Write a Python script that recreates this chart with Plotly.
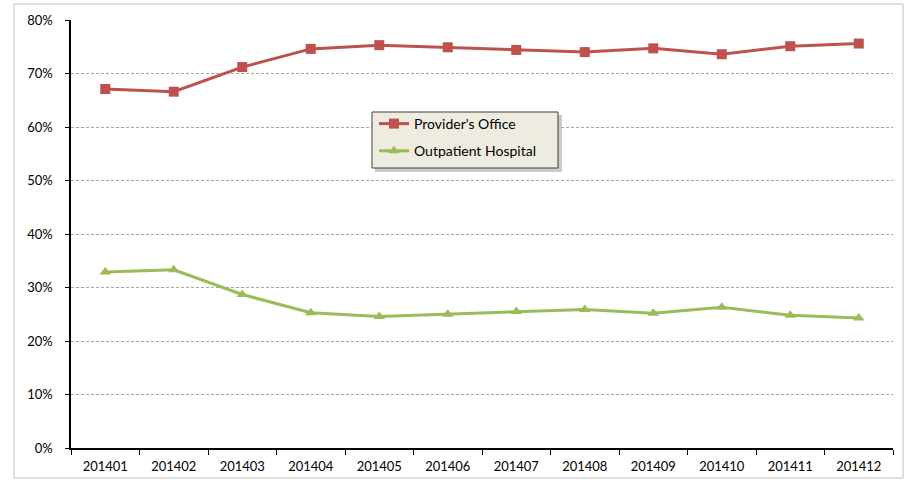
import plotly.graph_objects as go

months = ["201401", "201402", "201403", "201404", "201405", "201406",
          "201407", "201408", "201409", "201410", "201411", "201412"]
provider_office = [0.671, 0.666, 0.712, 0.746, 0.753, 0.749, 0.744, 0.740, 0.747, 0.736, 0.751, 0.756]
outpatient_hospital = [0.329, 0.333, 0.287, 0.253, 0.246, 0.250, 0.255, 0.259, 0.252, 0.263, 0.248, 0.243]

FONT = "Lato, 'Open Sans', sans-serif"

fig = go.Figure()
fig.add_trace(go.Scatter(
    x=months, y=provider_office, name="Provider's Office", mode="lines+markers",
    legendgroup="a",
    line=dict(color="#C0504D", width=3),
    marker=dict(symbol="square", size=10, color="#C0504D"),
))
fig.add_trace(go.Scatter(
    x=months, y=outpatient_hospital, name="Outpatient Hospital", mode="lines+markers",
    legendgroup="b",
    line=dict(color="#9BBB59", width=3),
    marker=dict(symbol="triangle-up", size=10, color="#9BBB59"),
))

L, R, T, B = 71, 13, 20, 36
W, H = 906, 484
pw, ph = W - L - R, H - T - B

def px(x):
    return (x - L) / pw

def py(y):
    return (H - B - y) / ph

shapes = [
    # outer chart border
    dict(type="rect", xref="paper", yref="paper",
         x0=px(14), x1=px(903), y0=py(478), y1=py(4),
         line=dict(color="#BFBFBF", width=1), layer="below"),
    # legend shadow
    dict(type="rect", xref="paper", yref="paper",
         x0=px(375), x1=px(562), y0=py(172), y1=py(115),
         fillcolor="rgba(150,150,150,0.5)", line=dict(width=0), layer="above"),
    # legend box
    dict(type="rect", xref="paper", yref="paper",
         x0=px(372), x1=px(558), y0=py(168), y1=py(112),
         fillcolor="#EEECE1", line=dict(color="#404040", width=1), layer="above"),
]

fig.update_layout(
    width=W, height=H,
    margin=dict(l=L, r=R, t=T, b=B),
    paper_bgcolor="white", plot_bgcolor="white",
    font=dict(family=FONT, size=13, color="#000000"),
    showlegend=True,
    legend=dict(
        x=px(374), y=py(108), xanchor="left", yanchor="top",
        bgcolor="rgba(0,0,0,0)", borderwidth=0,
        font=dict(family=FONT, size=14, color="#000000"),
        tracegroupgap=6, itemwidth=30, traceorder="grouped",
    ),
    xaxis=dict(
        type="category", range=[-0.5, 11.5], tickson="boundaries", automargin=False,
        ticks="outside", ticklen=5, ticklabelstandoff=6,
        tickcolor="#000000", showline=True, linecolor="#000000", linewidth=1.5,
        showgrid=False, tickfont=dict(size=13), mirror=False,
    ),
    yaxis=dict(
        range=[0, 0.8], dtick=0.1, tickformat=".0%", ticks="outside", ticklen=4,
        ticklabelstandoff=10, automargin=False,
        tickcolor="#000000", showline=True, linecolor="#000000", linewidth=1.5,
        showgrid=True, gridcolor="#A6A6A6", griddash="3px,2px", gridwidth=1,
        zeroline=False, tickfont=dict(size=13),
    ),
    shapes=shapes,
)

fig.write_html("out.html", config={"displayModeBar": False},
               post_script="document.body.style.margin='0';document.body.style.padding='0';")
